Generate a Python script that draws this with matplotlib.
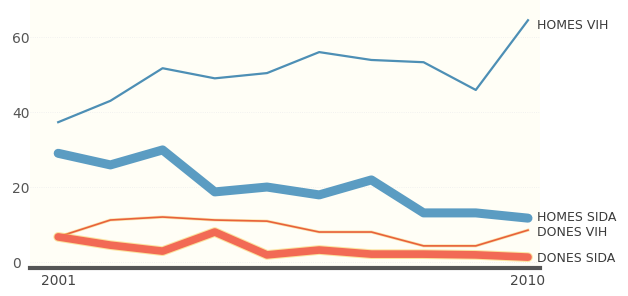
import numpy as np
import matplotlib.pyplot as plt

years = [2001, 2002, 2003, 2004, 2005, 2006, 2007, 2008, 2009, 2010]
homes_vih = [37.3, 43.0, 51.7, 49.0, 50.4, 56.0, 53.9, 53.3, 45.9, 64.5]
homes_sida = [29.0, 25.9, 29.9, 18.7, 20.0, 17.9, 21.9, 13.1, 13.1, 11.7]
dones_vih = [6.7, 11.2, 12.0, 11.2, 10.9, 8.0, 8.0, 4.3, 4.3, 8.5]
dones_sida = [6.7, 4.5, 2.9, 8.0, 1.9, 3.2, 2.1, 2.1, 1.9, 1.3]
yticks = [0, 20, 40, 60]
series_labels = ['HOMES VIH', 'HOMES SIDA', 'DONES VIH', 'DONES SIDA']

fig = plt.figure(figsize=(6.28, 2.96), dpi=100)
ax = fig.add_axes([30/628, 28/296, 510/628, 268/296])
ax.set_facecolor('#fffef6')

ax.plot(years, homes_vih, color='#4d8fb5', lw=1.6, solid_joinstyle='round')
ax.plot(years, homes_sida, color='#5b9cc2', lw=6.5, solid_joinstyle='round',
        solid_capstyle='round')
ax.plot(years, dones_vih, color='#f5b940', lw=2.2, alpha=0.4, solid_joinstyle='round')
ax.plot(years, dones_vih, color='#e8623a', lw=1.2, solid_joinstyle='round')
ax.plot(years, dones_sida, color='#f7c848', lw=7, alpha=0.5, solid_joinstyle='round',
        solid_capstyle='round')
ax.plot(years, dones_sida, color='#f26a55', lw=5.5, solid_joinstyle='round',
        solid_capstyle='round')

ax.set_xlim(2000.46, 2010.23)
ax.set_ylim(-1.6, 69.9)

for s in ['top', 'right', 'left']:
    ax.spines[s].set_visible(False)
ax.spines['bottom'].set_color('#555555')
ax.spines['bottom'].set_linewidth(3)

ax.set_yticks(yticks)
ax.set_yticklabels([str(v) for v in yticks], ha='left', color='#555555', fontsize=10)
ax.tick_params(axis='y', length=0, pad=13)
ax.set_xticks([years[0], years[-1]])
ax.set_xticklabels([str(years[0]), str(years[-1])], color='#444444', fontsize=10)
ax.tick_params(axis='x', length=0, pad=4)
ax.grid(axis='y', color='#eeeeee', lw=0.6, ls=':')

# labels at the right end of each line
ends = [homes_vih[-1] - 1.3, homes_sida[-1] + 0.2, dones_vih[-1] - 0.5, dones_sida[-1] - 0.3]
for lab, yv in zip(series_labels, ends):
    ax.text(years[-1] + 0.18, yv, lab, fontsize=9, color='#3a3a3a',
            va='center', ha='left', clip_on=False)

fig.savefig('out.png', dpi=100)
